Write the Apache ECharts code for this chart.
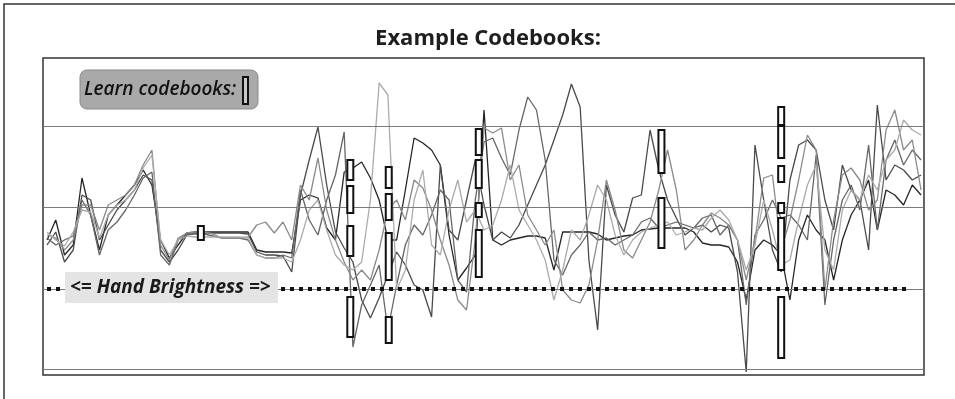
<!DOCTYPE html>
<html>
<head>
<meta charset="utf-8">
<script src="https://cdn.jsdelivr.net/npm/echarts@6/dist/echarts.min.js"></script>
<style>
html,body{margin:0;padding:0;background:#fff;}
#chart{width:955px;height:399px;}
</style>
</head>
<body>
<div id="chart"></div>
<script>
// Frame samples (x) and brightness traces (y)
const sampleCount = 101;
const series1 = [129,149,114,124,191,154,119,154,164,174,184,199,184,129,
  111,124,136,137,137,137,137,137,137,137,119,117,117,117,116,
  169,174,171,141,129,197,201,207,191,169,129,129,179,231,226,219,204,134,89,101,114,259,129,124,129,131,133,133,131,99,137,137,137,137,135,
  129,131,133,134,139,140,141,141,141,141,137,126,124,124,122,107,69,
  119,129,124,114,69,129,154,139,129,89,129,154,169,189,139,179,174,164,184,174];
const series2 = [124,137,107,119,174,169,129,144,159,169,179,194,189,119,
  107,119,134,136,136,136,136,136,136,135,117,114,114,113,97,
  174,209,242,184,137,121,107,69,51,71,94,117,104,84,79,52,204,139,129,169,209,164,129,137,131,144,164,184,204,229,254,285,262,109,39,
  184,154,137,171,174,239,199,169,151,134,141,144,137,144,141,97,-3,
  224,169,119,97,189,224,229,219,169,139,204,179,169,119,264,189,204,199,189,194];
const series3 = [131,124,129,133,169,154,114,139,147,159,174,191,197,114,
  104,129,135,135,135,133,131,131,131,129,114,111,111,114,111,
  179,149,134,169,194,237,22,64,84,104,39,84,124,144,134,154,179,169,89,77,169,227,231,211,194,239,272,259,209,109,94,114,124,137,129,
  131,124,129,134,147,151,141,144,147,144,141,151,154,134,144,129,64,
  134,149,169,151,154,144,129,214,64,129,169,184,159,224,139,209,229,204,219,209];
const series4 = [134,131,119,129,164,164,139,164,169,174,184,204,219,124,
  109,131,136,137,137,135,131,131,131,132,144,147,136,147,129,
  184,169,211,159,129,107,89,99,89,119,159,169,149,189,181,159,129,104,69,59,129,241,236,241,189,204,154,139,124,139,79,69,66,84,129,
  189,159,119,111,129,147,179,219,179,119,129,144,156,151,144,129,89,
  129,191,194,119,149,189,234,219,79,149,194,201,189,159,169,239,259,219,229,179];
const series5 = [137,129,123,137,159,157,131,154,164,169,179,201,214,129,
  114,129,133,132,132,132,132,132,132,131,114,111,111,111,107,
  129,159,169,139,114,104,99,107,169,286,274,79,99,169,199,124,114,159,189,147,159,139,144,169,204,159,144,129,109,69,99,139,129,154,184,
  169,134,114,129,137,141,144,147,134,137,141,139,151,159,149,129,99,
  124,169,139,104,109,149,184,204,119,99,159,179,169,194,179,209,219,249,239,234];
// Codebook boxes: [sample, low, high]
const codebooks = [
  [17.6,129,143],
  [34.7,189,209],[34.7,156,183],[34.7,113,143],[34.7,32,72],
  [39.1,181,202],[39.1,149,175],[39.1,89,136],[39.1,26,52],
  [49.4,214,240],[49.4,181,209],[49.4,152,166],[49.4,92,139],
  [70.3,196,239],[70.3,121,171],
  [84.0,244,262],[84.0,211,243],[84.0,187,203],[84.0,156,166],[84.0,99,151],[84.0,11,72]
];
const gridLevels = [0, 80, 162, 243];
const handBrightness = 80;
const handRange = [0, 98.4];

const traceColors = ['#262626','#4a4a4a','#666666','#8a8a8a','#ababab'];
const traces = [series1, series2, series3, series4, series5];

const chart = echarts.init(document.getElementById('chart'));
const lineSeries = traces.map((arr, k) => ({
  type: 'line',
  data: arr.map((v, i) => [i, v]),
  symbol: 'none',
  silent: true,
  z: 3,
  lineStyle: { color: traceColors[k], width: 1.3 }
}));

chart.setOption({
  animation: false,
  backgroundColor: '#ffffff',
  title: {
    text: 'Example Codebooks:',
    left: 483, top: 23, textAlign: 'center',
    textStyle: { fontFamily: 'Open Sans', fontWeight: 'bold', fontSize: 22, color: '#1e1e1e' }
  },
  grid: { left: 43, top: 58, right: 31, bottom: 24, show: true, borderColor: '#333', borderWidth: 1.5, backgroundColor: 'transparent' },
  xAxis: { type: 'value', min: -0.46, max: 100.34, show: false },
  yAxis: { type: 'value', min: -6, max: 311, show: false, splitLine: { show: false } },
  series: [
    {
      type: 'line', data: [], silent: true, z: 1,
      markLine: {
        silent: true, symbol: 'none', label: { show: false },
        lineStyle: { color: '#7a7a7a', width: 1.2, type: 'solid' },
        data: gridLevels.map(v => ({ yAxis: v }))
      }
    },
    {
      type: 'line', data: [], silent: true, z: 4,
      markLine: {
        silent: true, symbol: 'none', label: { show: false },
        lineStyle: { color: '#111', width: 4, type: [4, 5], cap: 'butt' },
        data: [[{ coord: [handRange[0], handBrightness] }, { coord: [handRange[1], handBrightness] }]]
      }
    },
    ...lineSeries,
    {
      type: 'custom', silent: true, z: 5,
      data: codebooks,
      renderItem: function (params, api) {
        const top = api.coord([api.value(0), api.value(2)]);
        const bot = api.coord([api.value(0), api.value(1)]);
        const w = 6;
        return {
          type: 'rect',
          shape: { x: top[0] - w / 2, y: top[1], width: w, height: bot[1] - top[1] },
          style: { fill: '#ffffff', stroke: '#111', lineWidth: 2 }
        };
      }
    }
  ],
  graphic: [
    { type: 'polyline', shape: { points: [[4, 399], [4, 4], [955, 4]] }, style: { stroke: '#333', lineWidth: 1.5, fill: null }, z: 10 },
    { type: 'rect', shape: { x: 65, y: 272, width: 213, height: 31 }, style: { fill: '#e4e4e4' }, z: 20 },
    { type: 'text', x: 70, y: 288, style: { text: '<= Hand Brightness =>', font: 'italic bold 19px "Open Sans"', fill: '#1a1a1a', verticalAlign: 'middle' }, z: 21 },
    { type: 'rect', shape: { x: 80, y: 70, width: 178, height: 39, r: 7 }, style: { fill: '#a9a9a9', stroke: '#8a8a8a', lineWidth: 1 }, z: 20 },
    { type: 'text', x: 84, y: 90, style: { text: 'Learn codebooks:', font: 'italic 600 19px "Open Sans"', fill: '#111', verticalAlign: 'middle' }, z: 21 },
    { type: 'rect', shape: { x: 243, y: 77, width: 5, height: 27 }, style: { fill: '#c8c8c8', stroke: '#111', lineWidth: 2 }, z: 21 }
  ]
});
</script>
</body>
</html>
